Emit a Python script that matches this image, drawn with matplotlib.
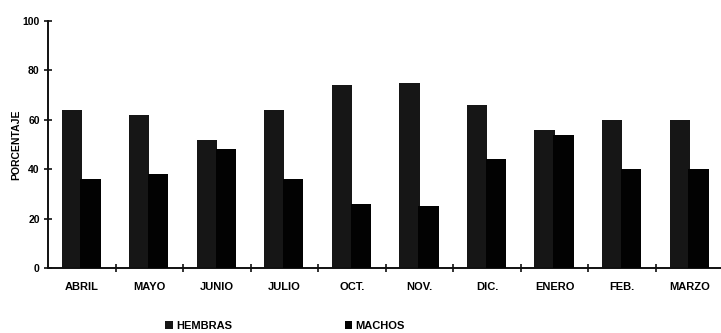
import matplotlib
matplotlib.use("Agg")
import matplotlib.pyplot as plt
import numpy as np

categories = ["ABRIL", "MAYO", "JUNIO", "JULIO", "OCT.", "NOV.", "DIC.", "ENERO", "FEB.", "MARZO"]
hembras = [64, 62, 52, 64, 74, 75, 66, 56, 60, 60]
machos = [36, 38, 48, 36, 26, 25, 44, 54, 40, 40]
yticks = [0, 20, 40, 60, 80, 100]

plt.rcParams['font.family'] = ['Liberation Sans', 'DejaVu Sans']

fig = plt.figure(figsize=(7.21, 3.33), dpi=100)
ax = fig.add_axes([0.0666, 0.194, 0.937, 0.744])

x = np.arange(len(categories))
w = 0.30
ax.bar(x - 0.15, hembras, width=w, color='#161616', edgecolor='none', label='HEMBRAS', zorder=2)
ax.bar(x + 0.13, machos, width=w, color='#020202', edgecolor='none', label='MACHOS', zorder=3)

ax.set_xlim(-0.5, len(categories) - 0.5)
ax.set_ylim(0, 100)
ax.set_yticks(yticks)
ax.set_yticklabels([str(v) for v in yticks], fontsize=7.5, fontweight='bold')
ax.set_xticks(x)
ax.set_xticklabels(categories, fontsize=8, fontweight='bold')
ax.tick_params(axis='x', length=0, pad=10)
ax.set_xticks(np.arange(len(categories)) + 0.5, minor=True)
ax.tick_params(axis='x', which='minor', direction='inout', length=6, width=1.2, color='#111111')
ax.tick_params(axis='y', direction='inout', length=6, width=1.2, color='#111111', pad=3)

for s in ['top', 'right']:
    ax.spines[s].set_visible(False)
for s in ['left', 'bottom']:
    ax.spines[s].set_linewidth(1.4)
    ax.spines[s].set_color('#111111')

ax.set_ylabel('PORCENTAJE', fontsize=7.5, fontweight='bold', labelpad=1)

fig.legend(loc='center', bbox_to_anchor=(0.3955, 0.022), ncol=2, frameon=False,
           prop={'size': 8, 'weight': 'bold'}, handlelength=0.7, handleheight=0.7,
           handletextpad=0.3, columnspacing=10.1)

fig.savefig('out.png', dpi=100)
